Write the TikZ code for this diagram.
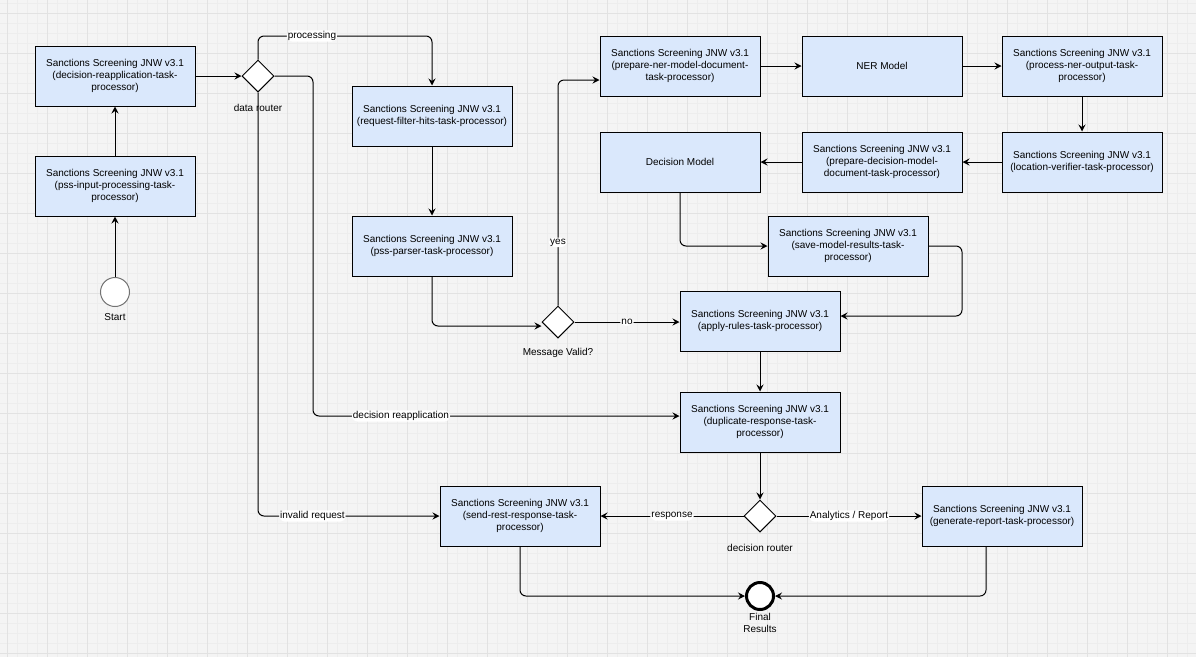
\documentclass[tikz,border=0pt]{standalone}
\usepackage{fontspec}
\setmainfont{Liberation Sans}
\usetikzlibrary{shapes.geometric, arrows.meta}
\definecolor{boxblue}{HTML}{DAE8FC}
\definecolor{canvas}{HTML}{F4F4F4}
\definecolor{gridminor}{HTML}{EDEDED}
\definecolor{gridmajor}{HTML}{E2E2E2}

\begin{document}
\begin{tikzpicture}[
  x=1pt, y=-1pt,
  font=\fontsize{10}{12.3}\selectfont,
  proc/.style={rectangle, draw, line width=1pt, fill=boxblue, minimum width=160pt, minimum height=60pt, align=center, inner sep=2pt},
  gate/.style={diamond, draw, line width=1pt, fill=white, minimum width=32pt, minimum height=32pt, inner sep=0pt},
  startEv/.style={circle, draw=black!55, line width=1pt, fill=white, minimum size=29pt, inner sep=0pt},
  endEv/.style={circle, draw, line width=3pt, fill=white, minimum size=27pt, inner sep=0pt},
  e/.style={-{Stealth[length=7pt,width=7pt,inset=2.5pt]}, line width=1pt, rounded corners=6pt},
  lbl/.style={fill=white, inner sep=1pt},
  txt/.style={align=center, inner sep=0pt}
]

% --- canvas and grid ---
\fill[canvas] (0,0) rectangle (1196,657);
\useasboundingbox (0,0) rectangle (1196,657);
\foreach \gx in {7,17,...,1196} \draw[gridminor, line width=0.5pt] (\gx,0) -- (\gx,657);
\foreach \gy in {3,13,...,657} \draw[gridminor, line width=0.5pt] (0,\gy) -- (1196,\gy);
\foreach \gx in {7,47,...,1196} \draw[gridmajor, line width=0.8pt] (\gx,0) -- (\gx,657);
\foreach \gy in {13,53,...,657} \draw[gridmajor, line width=0.8pt] (0,\gy) -- (1196,\gy);

% --- entry ---
\node[startEv] (start) at (115,292) {};
\node[txt] (startLbl) at (115,317) {Start};
\node[proc] (pssIn) at (115,186) {Sanctions Screening JNW v3.1\\(pss-input-processing-task-\\processor)};
\node[proc] (decRe) at (115,76) {Sanctions Screening JNW v3.1\\(decision-reapplication-task-\\processor)};
\node[gate] (dataRouter) at (258,76) {};
\node[txt] (dataRouterLbl) at (258,108) {data router};

% --- parsing ---
\node[proc] (reqFilter) at (432,116) {Sanctions Screening JNW v3.1\\(request-filter-hits-task-processor)};
\node[proc] (pssParser) at (432,246) {Sanctions Screening JNW v3.1\\(pss-parser-task-processor)};
\node[gate] (msgValid) at (558,322) {};
\node[txt] (msgValidLbl) at (558,353) {Message Valid?};

% --- models ---
\node[proc] (prepNer) at (680,66) {Sanctions Screening JNW v3.1\\(prepare-ner-model-document-\\task-processor)};
\node[proc] (ner) at (882,66) {NER Model};
\node[proc] (procNer) at (1082,66) {Sanctions Screening JNW v3.1\\(process-ner-output-task-\\processor)};
\node[proc] (locVer) at (1082,162) {Sanctions Screening JNW v3.1\\(location-verifier-task-processor)};
\node[proc] (prepDec) at (882,162) {Sanctions Screening JNW v3.1\\(prepare-decision-model-\\document-task-processor)};
\node[proc] (decModel) at (680,162) {Decision Model};
\node[proc] (saveModel) at (848,246) {Sanctions Screening JNW v3.1\\(save-model-results-task-\\processor)};

% --- rules and output ---
\node[proc] (applyRules) at (760,321) {Sanctions Screening JNW v3.1\\(apply-rules-task-processor)};
\node[proc] (dupResp) at (760,422) {Sanctions Screening JNW v3.1\\(duplicate-response-task-\\processor)};
\node[gate] (decRouter) at (760,516) {};
\node[txt] (decRouterLbl) at (760,548) {decision router};
\node[proc] (sendRest) at (520,516) {Sanctions Screening JNW v3.1\\(send-rest-response-task-\\processor)};
\node[proc] (genReport) at (1002,516) {Sanctions Screening JNW v3.1\\(generate-report-task-processor)};
\node[endEv] (final) at (760,596) {};
\node[txt] (finalLbl) at (760,623) {Final\\Results};

% --- edges ---
\draw[e] (start) -- (pssIn);
\draw[e] (pssIn) -- (decRe);
\draw[e] (decRe) -- (dataRouter);
\draw[e] (dataRouter.north) |- node[lbl, pos=0.655] {processing} (432,36) -- (reqFilter.north);
\draw[e] (dataRouter.east) -- (313,76) -- (313,416) -- node[lbl, pos=0.24] {decision reapplication} (dupResp.west |- 0,416);
\draw[e] (dataRouter.south) |- node[lbl, pos=0.65] {invalid request} (sendRest.west);
\draw[e] (reqFilter) -- (pssParser);
\draw[e] (pssParser.south) |- ([yshift=-4pt]msgValid.west);
\draw[e] (msgValid.north) |- node[lbl, pos=0.14] {yes} ([yshift=-14pt]prepNer.west);
\draw[e] (msgValid.east) -- node[lbl] {no} (applyRules.west |- msgValid.east);

% models chain
\draw[e] (prepNer) -- (ner);
\draw[e] (ner) -- (procNer);
\draw[e] (procNer) -- (locVer);
\draw[e] (locVer) -- (prepDec);
\draw[e] (prepDec) -- (decModel);
\draw[e] (decModel.south) |- (saveModel.west);
\draw[e] (saveModel.east) -- (962,246) -- (962,316) -- ([yshift=5pt]applyRules.east);

% output
\draw[e] (applyRules) -- (dupResp);
\draw[e] (dupResp) -- (decRouter);
\draw[e] (decRouter.west) -- node[lbl] {response} (sendRest.east);
\draw[e] (decRouter.east) -- node[lbl] {Analytics / Report} (genReport.west);
\draw[e] (sendRest.south) |- (final.west);
\draw[e] ([xshift=-16pt]genReport.south) |- (final.east);

\end{tikzpicture}
\end{document}
